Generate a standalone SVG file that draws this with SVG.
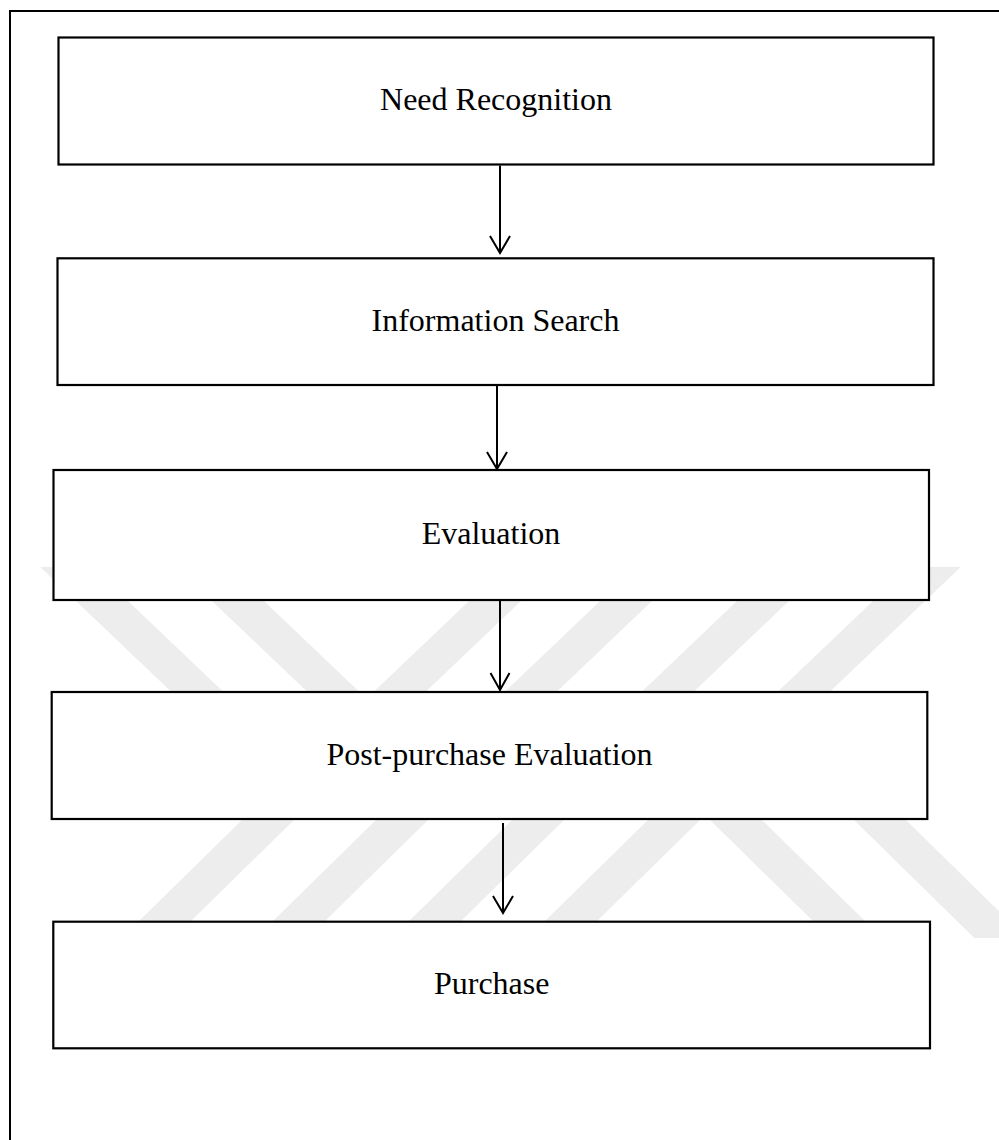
<svg xmlns="http://www.w3.org/2000/svg" width="999" height="1140" viewBox="0 0 999 1140">
  <defs>
    <style>
      .frame { fill: none; stroke: #000; stroke-width: 2; }
      .band { fill: #ededed; stroke: none; }
      .box { fill: #fff; stroke: #000; stroke-width: 2.2; }
      .label { font-family: "Liberation Serif", "Times New Roman", serif; font-size: 32px; fill: #000; text-anchor: middle; }
      .flow { fill: none; stroke: #000; stroke-width: 2; }
      .head { fill: none; stroke: #000; stroke-width: 2; stroke-linejoin: miter; stroke-linecap: butt; }
    </style>
  </defs>

  <rect width="999" height="1140" fill="#fff"/>

  <!-- background diagonal bands -->
  <g id="backdrop">
    <polygon class="band" points="40.25,567 92.25,567 231.9,700 179.9,700"/>
    <polygon class="band" points="176.25,567 228.25,567 367.9,700 315.9,700"/>
    <polygon class="band" points="504.75,567 556.75,567 417.1,700 365.1,700"/>
    <polygon class="band" points="635.75,567 687.75,567 548.1,700 496.1,700"/>
    <polygon class="band" points="772.75,567 824.75,567 685.1,700 633.1,700"/>
    <polygon class="band" points="908.75,567 960.75,567 821.1,700 769.1,700"/>
    <polygon class="band" points="262.44,800 314.44,800 173.68,938 121.68,938"/>
    <polygon class="band" points="396.44,800 448.44,800 307.68,938 255.68,938"/>
    <polygon class="band" points="532.44,800 584.44,800 443.68,938 391.68,938"/>
    <polygon class="band" points="668.44,800 720.44,800 579.68,938 527.68,938"/>
    <polygon class="band" points="689.56,800 741.56,800 882.32,938 830.32,938"/>
    <polygon class="band" points="833.56,800 885.56,800 1026.32,938 974.32,938"/>
  </g>

  <!-- page frame -->
  <path class="frame" d="M10,1140 V11 H999"/>

  <g id="need-recognition">
    <rect class="box" x="58.5" y="37.5" width="875" height="127"/>
    <text class="label" x="496" y="110">Need Recognition</text>
  </g>

  <g id="information-search">
    <rect class="box" x="57.5" y="258.3" width="876" height="126.7"/>
    <text class="label" x="495.5" y="331">Information Search</text>
  </g>

  <g id="evaluation">
    <rect class="box" x="53.5" y="470" width="875.5" height="130"/>
    <text class="label" x="491" y="544">Evaluation</text>
  </g>

  <g id="post-purchase-evaluation">
    <rect class="box" x="51.7" y="692" width="875.6" height="127"/>
    <text class="label" x="489.5" y="765">Post-purchase Evaluation</text>
  </g>

  <g id="purchase">
    <rect class="box" x="53.3" y="921.7" width="876.7" height="126.6"/>
    <text class="label" x="491.7" y="994">Purchase</text>
  </g>

  <g id="connectors">
    <line class="flow" x1="500" y1="165.5" x2="500" y2="253"/>
    <polyline class="head" points="490,236 500,253 510,236"/>

    <line class="flow" x1="497" y1="385" x2="497" y2="469"/>
    <polyline class="head" points="487,452 497,469 507,452"/>

    <line class="flow" x1="500" y1="600" x2="500" y2="690"/>
    <polyline class="head" points="490.5,673 500,690 509.5,673"/>

    <line class="flow" x1="503" y1="823" x2="503" y2="913"/>
    <polyline class="head" points="493,896 503,913 513,896"/>
  </g>
</svg>
